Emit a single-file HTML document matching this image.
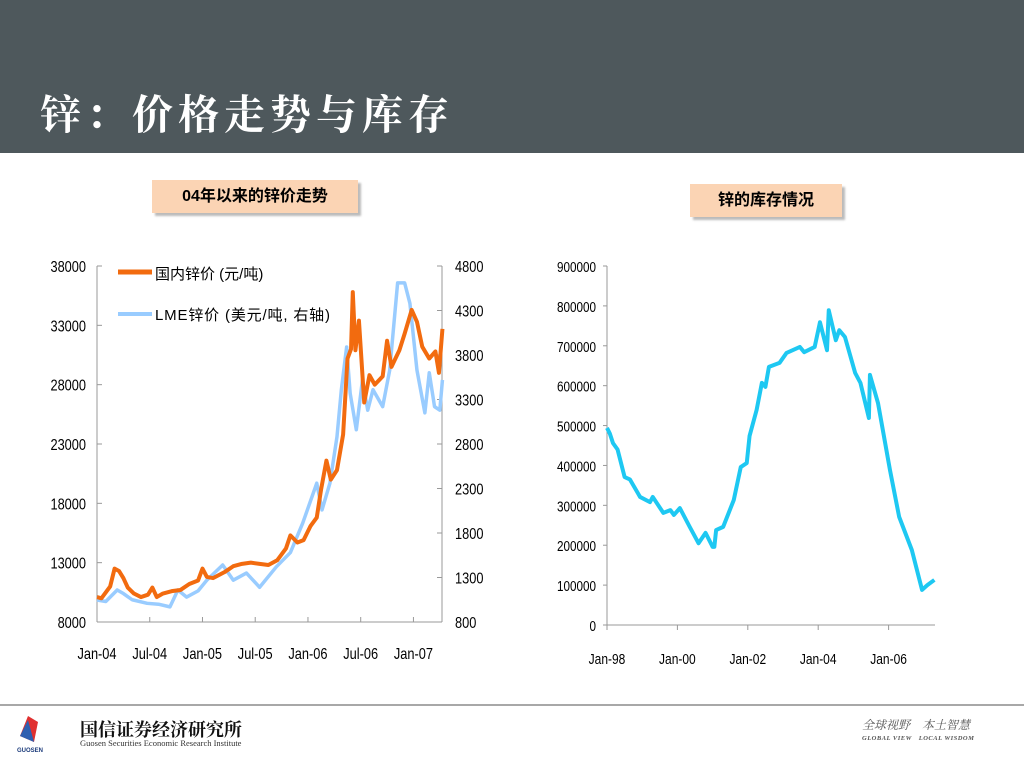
<!DOCTYPE html>
<html><head><meta charset="utf-8">
<style>
body{margin:0;width:1024px;height:768px;background:#fff;overflow:hidden;font-family:"Liberation Sans","Noto Sans CJK SC",sans-serif;position:relative}
.hdr{position:absolute;left:0;top:0;width:1024px;height:153px;background:#4e585c}
.title{position:absolute;left:40px;top:82px;font-family:"Noto Serif CJK SC","Noto Sans CJK SC",serif;font-weight:bold;font-size:41px;color:#fff;letter-spacing:5px}
.lbl{position:absolute;background:#fbd4b4;font-family:"Liberation Sans","Noto Sans CJK SC",sans-serif;font-weight:bold;font-size:16px;color:#000;box-shadow:3px 3px 2px #bbb;text-align:center}
svg text{font-family:"Liberation Sans","Noto Sans CJK SC",sans-serif}
</style></head><body>
<div class="hdr"></div>
<div class="title">锌：价格走势与库存</div>
<div class="lbl" style="left:152px;top:180px;width:206px;height:33px;line-height:33px">04年以来的锌价走势</div>
<div class="lbl" style="left:690px;top:184px;width:152px;height:33px;line-height:33px">锌的库存情况</div>
<svg id="s" width="1024" height="768" style="position:absolute;left:0;top:0"></svg>
<div style="position:absolute;left:0;top:704px;width:1024px;height:2px;background:#a8a8a8"></div>
<svg style="position:absolute;left:16px;top:714px" width="40" height="40">
<polygon points="12,2 22,8 18,28 4,22" fill="#e03030"/><polygon points="4,22 12,6 18,28" fill="#2f5fb0"/>
<text x="1" y="38" font-size="6" font-weight="bold" fill="#1a3a7a">GUOSEN</text></svg>
<div style="position:absolute;left:80px;top:716px;font-family:'Noto Serif CJK SC',serif;font-weight:bold;font-size:18px;color:#111">国信证券经济研究所</div>
<div style="position:absolute;left:80px;top:738px;font-family:'Liberation Serif',serif;font-size:8.5px;color:#333">Guosen Securities Economic Research Institute</div>
<div style="position:absolute;left:862px;top:716px;font-family:'Noto Serif CJK SC',serif;font-style:italic;font-size:12px;color:#555">全球视野　本土智慧</div>
<div style="position:absolute;left:862px;top:732px;font-family:'Liberation Serif',serif;font-style:italic;font-weight:bold;font-size:6.5px;color:#555;letter-spacing:.5px">GLOBAL VIEW　LOCAL WISDOM</div>
<script>
// Left chart data (months since Jan-04)
const domMonths=[0,0.5,1.5,2,2.5,3,3.5,4.2,5,5.8,6.3,6.8,7.5,8.5,9.5,10.5,11.5,12,12.5,13.2,14.5,15.5,16.5,17.5,18.5,19.5,20.5,21.5,22,22.8,23.5,24.3,25,25.5,26.1,26.6,27.3,28,28.5,28.9,29.1,29.4,29.8,30.4,31,31.6,32.5,33,33.5,34.4,35,35.8,36.4,37,37.8,38.5,38.9,39.3];
const domValues=[10100,10000,11000,12500,12300,11700,10900,10400,10100,10300,10900,10100,10400,10600,10700,11200,11500,12500,11800,11700,12200,12700,12900,13000,12900,12800,13200,14200,15300,14700,14900,16100,16800,19200,21600,20000,20800,23800,30200,31000,35800,30900,33400,26500,28800,28000,28700,31700,29500,30900,32300,34300,33300,31200,30200,30800,29000,32700];
const lmeMonths=[0,1,2.3,3,4,5.7,7,8.3,9.2,10.2,11.5,12.5,14.3,15.5,17,18.5,20.4,22,23.4,25,25.6,26.5,27.3,27.8,28.4,28.8,29.5,30.2,30.8,31.4,32.5,33.3,34.2,35,35.6,36.4,37.3,37.8,38.4,39,39.3];
const lmeValues=[1047,1030,1160,1120,1050,1010,1000,970,1160,1080,1150,1270,1440,1270,1350,1190,1420,1580,1910,2360,2060,2360,2880,3410,3890,3370,2960,3520,3180,3410,3220,3630,4610,4610,4380,3630,3150,3600,3220,3180,3520];
const leftTicks=[8000,13000,18000,23000,28000,33000,38000];
const rightTicks=[800,1300,1800,2300,2800,3300,3800,4300,4800];
const leftXLabels=["Jan-04","Jul-04","Jan-05","Jul-05","Jan-06","Jul-06","Jan-07"];
const leftXMonths=[0,6,12,18,24,30,36];
// Right chart data (years since Jan-98)
const invYears=[0,0.08,0.17,0.3,0.5,0.65,0.94,1.22,1.3,1.6,1.8,1.9,2.07,2.35,2.6,2.8,3,3.05,3.1,3.3,3.6,3.8,3.97,4.05,4.25,4.4,4.5,4.6,4.9,5.1,5.48,5.6,5.9,6.05,6.25,6.3,6.5,6.6,6.76,7.05,7.2,7.44,7.47,7.7,8.04,8.3,8.66,8.95,9.1,9.3];
const invValues=[494000,480000,456000,440000,371000,365000,321000,308000,321000,281000,288000,276000,293000,246000,205000,231000,196000,196000,238000,246000,313000,396000,406000,474000,539000,607000,597000,647000,657000,682000,697000,684000,697000,759000,689000,789000,714000,739000,722000,632000,607000,519000,627000,556000,388000,271000,188000,88000,100000,113000];
const invTicks=[0,100000,200000,300000,400000,500000,600000,700000,800000,900000];
const invXLabels=["Jan-98","Jan-00","Jan-02","Jan-04","Jan-06"];
const invXYears=[0,2,4,6,8];

const s=document.getElementById('s');const NS='http://www.w3.org/2000/svg';
function el(t,a,txt){const e=document.createElementNS(NS,t);for(const k in a)e.setAttribute(k,a[k]);if(txt!==undefined)e.textContent=txt;s.appendChild(e);return e;}
const lx=m=>97+m*8.79, ly=v=>622-(v-8000)/30000*356, ry=v=>622-(v-800)/4000*356;
let e;
e=el('line',{x1:97,y1:266,x2:97,y2:622,stroke:'#999'});
e=el('line',{x1:442,y1:266,x2:442,y2:622,stroke:'#999'});
e=el('line',{x1:97,y1:622,x2:442,y2:622,stroke:'#999'});
leftTicks.forEach(v=>{el('line',{x1:97,y1:ly(v),x2:102,y2:ly(v),stroke:'#999'});
 e=el('text',{x:86,y:ly(v)+6,'font-size':16,'text-anchor':'end',transform:`scale(0.8,1)`,'transform-origin':`86 ${ly(v)}`},v);});
rightTicks.forEach(v=>{el('line',{x1:437,y1:ry(v),x2:442,y2:ry(v),stroke:'#999'});
 e=el('text',{x:455,y:ry(v)+6,'font-size':16,transform:'scale(0.8,1)','transform-origin':`455 ${ry(v)}`},v);});
leftXLabels.forEach((l,i)=>{const x=lx(leftXMonths[i]);el('line',{x1:x,y1:622,x2:x,y2:617,stroke:'#999'});
 e=el('text',{x:x,y:659,'font-size':16,'text-anchor':'middle',transform:'scale(0.8,1)','transform-origin':`${x} 659`},l);});
e=el('polyline',{points:lmeMonths.map((m,i)=>lx(m)+','+ry(lmeValues[i])).join(' '),fill:'none',stroke:'#99ccff','stroke-width':3.5,'stroke-linejoin':'round'});
e=el('polyline',{points:domMonths.map((m,i)=>lx(m)+','+ly(domValues[i])).join(' '),fill:'none',stroke:'#f26b0f','stroke-width':4,'stroke-linejoin':'round'});
e=el('line',{x1:118,y1:272,x2:152,y2:272,stroke:'#f26b0f','stroke-width':5});
e=el('text',{x:155,y:279,'font-size':15},'国内锌价 (元/吨)');
e=el('line',{x1:118,y1:314,x2:152,y2:314,stroke:'#99ccff','stroke-width':4});
e=el('text',{x:155,y:320,'font-size':15,textLength:175},'LME锌价 (美元/吨, 右轴)');
const ix=y=>607+y*35.2, iy=v=>625-v/900000*359;
e=el('line',{x1:607,y1:266,x2:607,y2:625,stroke:'#999'});
e=el('line',{x1:607,y1:625,x2:935,y2:625,stroke:'#999'});
invTicks.forEach(v=>{el('line',{x1:603,y1:iy(v),x2:607,y2:iy(v),stroke:'#999'});
 e=el('text',{x:596,y:iy(v)+6,'font-size':15,'text-anchor':'end',transform:'scale(0.78,1)','transform-origin':`596 ${iy(v)}`},v);});
invXLabels.forEach((l,i)=>{const x=ix(invXYears[i]);el('line',{x1:x,y1:625,x2:x,y2:630,stroke:'#999'});
 e=el('text',{x:x,y:664,'font-size':15,'text-anchor':'middle',transform:'scale(0.8,1)','transform-origin':`${x} 664`},l);});
e=el('polyline',{points:invYears.map((y,i)=>ix(y)+','+iy(invValues[i])).join(' '),fill:'none',stroke:'#1ec8f2','stroke-width':4,'stroke-linejoin':'round'});
</script>
</body></html>
